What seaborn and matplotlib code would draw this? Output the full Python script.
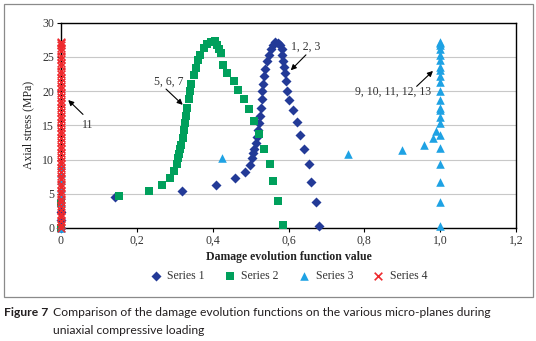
import matplotlib
matplotlib.use('Agg')
from matplotlib import pyplot as plt
import matplotlib.ticker as ticker
import matplotlib.patches as patches
import seaborn as sns
import pandas as pd

sns.set_style('white')

# values
s1_x = [0, 0, 0, 0.142, 0.318, 0.410, 0.458, 0.484, 0.499, 0.504, 0.507, 0.510, 0.513,
        0.516, 0.519, 0.523, 0.525, 0.527, 0.529, 0.530, 0.533, 0.536, 0.539, 0.544,
        0.549, 0.553, 0.559, 0.565, 0.572, 0.578, 0.582, 0.584, 0.585, 0.588, 0.591,
        0.594, 0.596, 0.602, 0.611, 0.622, 0.631, 0.641, 0.653, 0.659, 0.672, 0.681]
s1_y = [0, 1.1, 2.4, 4.57, 5.4, 6.3, 7.25, 8.2, 9.2, 10.2, 10.9, 11.6, 12.4,
        13.3, 14.3, 15.3, 16.4, 17.6, 18.8, 19.95, 21.1, 22.2, 23.3, 24.4,
        25.25, 26.1, 26.7, 27.2, 27.1, 26.7, 26.1, 25.3, 24.4, 23.5, 22.6,
        21.5, 20.05, 18.7, 17.2, 15.5, 13.6, 11.6, 9.3, 6.75, 3.85, 0.35]

s2_x = [0, 0, 0.154, 0.232, 0.267, 0.287, 0.297, 0.305, 0.309, 0.311, 0.314, 0.317,
        0.322, 0.324, 0.328, 0.329, 0.332, 0.337, 0.340, 0.344, 0.350, 0.356, 0.361,
        0.367, 0.378, 0.386, 0.396, 0.406, 0.412, 0.418, 0.422, 0.428, 0.438, 0.456,
        0.466, 0.482, 0.496, 0.510, 0.523, 0.536, 0.550, 0.558, 0.573, 0.585]
s2_y = [0, 3.7, 4.67, 5.4, 6.3, 7.35, 8.3, 9.3, 10.3, 10.8, 11.5, 12.2,
        13.2, 14.3, 15.4, 16.35, 17.6, 18.9, 20.05, 21.1, 22.3, 23.45, 24.5,
        25.35, 26.3, 26.85, 27.2, 27.3, 26.7, 26.2, 25.5, 23.8, 22.7, 21.5,
        20.15, 18.8, 17.4, 15.6, 13.8, 11.6, 9.4, 6.85, 4.0, 0.45]

s3_x = [0, 0, 0, 0, 0, 0, 0, 0.424, 0.756, 0.900, 0.958, 0.982, 0.988,
        1.0, 1.0, 1.0, 1.0, 1.0, 1.0, 1.0, 1.0, 1.0, 1.0, 1.0, 1.0, 1.0, 1.0,
        1.0, 1.0, 1.0, 1.0, 1.0, 1.0, 1.0, 1.0]
s3_y = [0, 3.85, 4.8, 5.9, 7.0, 8.1, 9.2, 10.3, 10.8, 11.4, 12.1, 13.1, 14.2,
        27.2, 26.8, 26.2, 25.35, 24.5, 23.55, 23.05, 22.2, 21.35, 20.05, 18.7,
        17.6, 17.2, 16.25, 15.4, 13.6, 11.65, 9.35, 6.75, 3.85, 0.3, 27.0]

s4_y = [0, 0.5, 1.0, 1.6, 2.1, 2.7, 3.2, 3.8, 4.3, 4.9, 5.4, 6.0, 6.5, 7.1, 7.6,
        8.2, 8.7, 9.3, 9.8, 10.4, 10.9, 11.5, 12.0, 12.6, 13.1, 13.7, 14.2, 14.8,
        15.3, 15.9, 16.4, 17.0, 17.5, 18.1, 18.6, 19.2, 19.7, 20.3, 20.8, 21.4,
        21.9, 22.5, 23.0, 23.6, 24.1, 24.7, 25.2, 25.8, 26.3, 26.7, 27.0, 27.2]
s4_x = [0] * len(s4_y)

series_names = ['Series 1', 'Series 2', 'Series 3', 'Series 4']
colors = ['#233a97', '#00a05c', '#1ea2e4', '#ee2a2e']
markers = ['D', 's', '^', 'x']
marker_sizes = [26, 36, 38, 30]
x_ticks = [0, 0.2, 0.4, 0.6, 0.8, 1.0, 1.2]
x_ticklabels = ['0', '0,2', '0,4', '0,6', '0,8', '1,0', '1,2']

# annotation labels: (text, text pos, arrow tail, arrow tip)
notes = [
    ('11', (0.071, 15.0), (0.058, 16.6), (0.019, 18.7)),
    ('5, 6, 7', (0.283, 21.4), (0.277, 20.3), (0.321, 18.0)),
    ('1, 2, 3', (0.645, 26.5), (0.646, 25.3), (0.606, 23.05)),
    ('9, 10, 11, 12, 13', (0.877, 19.9), (0.938, 20.7), (0.981, 22.95)),
]

df = pd.concat([
    pd.DataFrame({'x': xs, 'y': ys, 'series': name})
    for name, xs, ys in zip(series_names, [s1_x, s2_x, s3_x, s4_x], [s1_y, s2_y, s3_y, s4_y])
])

cap_font = ['Lato', 'DejaVu Sans']
plt.rcParams['font.family'] = ['Liberation Serif', 'DejaVu Serif']

fig = plt.figure(figsize=(5.36, 3.41), dpi=100)
ax = fig.add_axes([61 / 536, 1 - 228 / 341, 455 / 536, 205.3 / 341])

for name, color, marker, size in zip(series_names, colors, markers, marker_sizes):
    sub = df[df['series'] == name]
    sns.scatterplot(x='x', y='y', data=sub, ax=ax, color=color, marker=marker,
                    s=size, linewidth=1.2 if marker == 'x' else 0, label=name,
                    clip_on=False, zorder=3)

ax.set_xlim(0, 1.2)
ax.set_ylim(0, 30)
ax.set_xticks(x_ticks)
ax.xaxis.set_major_formatter(ticker.FixedFormatter(x_ticklabels))
ax.set_yticks(range(0, 31, 5))
ax.yaxis.grid(True, color='#c8c8c8', lw=0.8)
ax.xaxis.grid(False)
ax.set_axisbelow(True)
for sp in ax.spines.values():
    sp.set_color('black')
    sp.set_linewidth(1.0)
ax.tick_params(axis='both', direction='out', length=3, width=0.8, color='black',
               labelsize=8.5, labelcolor='#333333', pad=2, bottom=True, left=True)

ax.set_xlabel('Damage evolution function value', fontsize=8.5, fontweight='bold',
              color='#222222', labelpad=3)
ax.set_ylabel('Axial stress (MPa)', fontsize=8.5, color='#222222', labelpad=6)

for text, tpos, tail, tip in notes:
    ax.annotate('', xy=tip, xytext=tail,
                arrowprops=dict(arrowstyle='-|>', color='black', lw=0.8,
                                mutation_scale=8, shrinkA=0, shrinkB=0))
    ax.text(tpos[0], tpos[1], text, fontsize=8.5, color='#333333',
            ha='center', va='center')

ax.get_legend().remove()
handles, labels = ax.get_legend_handles_labels()
fig.legend(handles, labels, loc='center', bbox_to_anchor=(0.538, 1 - 276 / 341),
           ncol=4, frameon=False, fontsize=8.5, handlelength=1.0, handletextpad=0.5,
           columnspacing=1.6, labelcolor='#333333')

frame = patches.Rectangle((4 / 536, 1 - 297 / 341), 529 / 536, 293 / 341,
                          transform=fig.transFigure, fill=False, edgecolor='#8a8a8a',
                          lw=0.9)
fig.patches.append(frame)

fig.text(4 / 536, 1 - 312 / 341, 'Figure 7', family=cap_font,
         fontweight='bold', fontsize=8.7, color='#231f20', va='center')
fig.text(53 / 536, 1 - 312 / 341,
         'Comparison of the damage evolution functions on the various micro-planes during',
         family=cap_font, fontsize=8.7, color='#231f20', va='center')
fig.text(53 / 536, 1 - 331 / 341, 'uniaxial compressive loading',
         family=cap_font, fontsize=8.7, color='#231f20', va='center')

fig.savefig('out.png', dpi=100)
